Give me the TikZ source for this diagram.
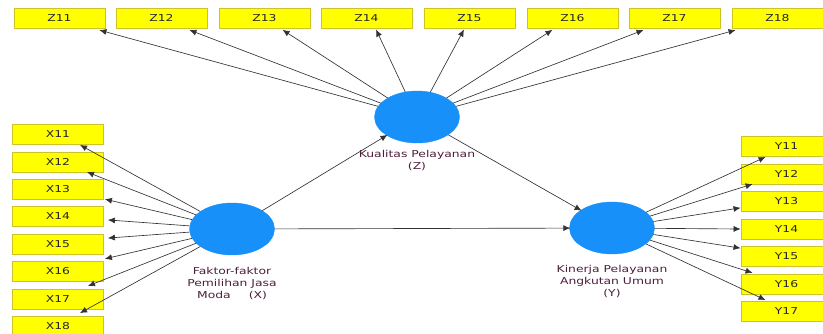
\documentclass[tikz,border=0pt]{standalone}
\usepackage{fontspec}
\setmainfont{DejaVu Sans}[FakeStretch=1.3]
\usetikzlibrary{shapes.geometric,arrows.meta}
\definecolor{boxfill}{RGB}{255,255,0}
\definecolor{boxline}{RGB}{205,195,40}
\definecolor{lv}{RGB}{24,144,250}
\definecolor{lbl}{RGB}{75,30,60}
\definecolor{ln}{RGB}{50,50,50}
\tikzset{
  ind/.style={draw=boxline, fill=boxfill, line width=0.8pt, minimum width=91pt, minimum height=20pt, inner sep=0pt, font=\fontsize{9.5}{11}\selectfont, text=black!85},
  lat/.style={ellipse, fill=lv, draw=lv, minimum width=85pt, minimum height=52pt, inner sep=0pt},
  lab/.style={align=center, font=\fontsize{9.5}{11.7}\selectfont, text=lbl},
  arr/.style={draw=ln, line width=0.65pt, -{Latex[length=7pt,width=6pt]}, shorten >=-1pt}
}
\begin{document}
\begin{tikzpicture}[x=1pt,y=-1pt]
\useasboundingbox (0,0) rectangle (823,334);
% Z indicators
\node[ind] (z11) at (59.5,18) {Z11};
\node[ind] (z12) at (161.5,18) {Z12};
\node[ind] (z13) at (264.5,18) {Z13};
\node[ind] (z14) at (366.5,18) {Z14};
\node[ind] (z15) at (469.5,18) {Z15};
\node[ind] (z16) at (572.5,18) {Z16};
\node[ind] (z17) at (674.5,18) {Z17};
\node[ind] (z18) at (777.5,18) {Z18};
% X indicators
\node[ind] (x11) at (58,134) {X11};
\node[ind] (x12) at (58,162) {X12};
\node[ind] (x13) at (58,189) {X13};
\node[ind] (x14) at (58,216) {X14};
\node[ind] (x15) at (58,244) {X15};
\node[ind] (x16) at (58,271) {X16};
\node[ind] (x17) at (58,299) {X17};
\node[ind] (x18) at (58,326) {X18};
% Y indicators
\node[ind] (y11) at (786.5,146) {Y11};
\node[ind] (y12) at (786.5,174) {Y12};
\node[ind] (y13) at (786.5,201) {Y13};
\node[ind] (y14) at (786.5,229) {Y14};
\node[ind] (y15) at (786.5,256) {Y15};
\node[ind] (y16) at (786.5,284) {Y16};
\node[ind] (y17) at (786.5,311) {Y17};
% latent variables
\node[lat] (zc) at (417,117) {};
\node[lat] (xc) at (232,229) {};
\node[lat] (yc) at (612,228) {};
\node[lab, anchor=north] (zl) at (417,147) {Kualitas Pelayanan\\(Z)};
\node[lab, anchor=north] (xl) at (232,264) {Faktor-faktor\\Pemilihan Jasa\\Moda\hspace{1.9em}(X)};
\node[lab, anchor=north] (yl) at (612,262) {Kinerja Pelayanan\\Angkutan Umum\\(Y)};
% Z arrows
\draw[arr] (zc) -- ([xshift=-5pt,yshift=-2pt]z11.south east);
\draw[arr] (zc) -- ([xshift=-17pt,yshift=-2pt]z12.south east);
\draw[arr] (zc) -- ([xshift=-27pt,yshift=-2pt]z13.south east);
\draw[arr] (zc) -- ([xshift=10pt,yshift=-2pt]z14.south);
\draw[arr] (zc) -- ([xshift=-6pt,yshift=-2pt]z15.south);
\draw[arr] (zc) -- ([xshift=25pt,yshift=-2pt]z16.south west);
\draw[arr] (zc) -- ([xshift=14pt,yshift=-2pt]z17.south west);
\draw[arr] (zc) -- ([xshift=3pt,yshift=-2pt]z18.south west);
% X arrows
\draw[arr] (xc) -- ([xshift=-23pt,yshift=-1pt]x11.south east);
\draw[arr] (xc) -- ([xshift=-16pt]x12.south east);
\draw[arr] (xc) -- ([xshift=2pt]x13.south east);
\draw[arr] (xc) -- ([xshift=5pt,yshift=-4pt]x14.east);
\draw[arr] (xc) -- ([xshift=5pt,yshift=6pt]x15.east);
\draw[arr] (xc) -- ([xshift=2pt,yshift=2pt]x16.north east);
\draw[arr] (xc) -- ([xshift=-15pt,yshift=3pt]x17.north east);
\draw[arr] (xc) -- ([xshift=-23pt,yshift=3pt]x18.north east);
% Y arrows
\draw[arr] (yc) -- ([xshift=24pt,yshift=-1pt]y11.south west);
\draw[arr] (yc) -- ([xshift=11pt]y12.south west);
\draw[arr] (yc) -- ([xshift=-1pt,yshift=-7pt]y13.west);
\draw[arr] (yc) -- ([xshift=-1pt]y14.west);
\draw[arr] (yc) -- ([xshift=-1pt,yshift=8pt]y15.west);
\draw[arr] (yc) -- ([xshift=11pt,yshift=1pt]y16.north west);
\draw[arr] (yc) -- ([xshift=24pt,yshift=1pt]y17.north west);
% structural paths
\draw[arr] (xc) -- (zc);
\draw[arr] (zc) -- (yc);
\draw[arr] (xc) -- (yc);
\end{tikzpicture}
\end{document}
